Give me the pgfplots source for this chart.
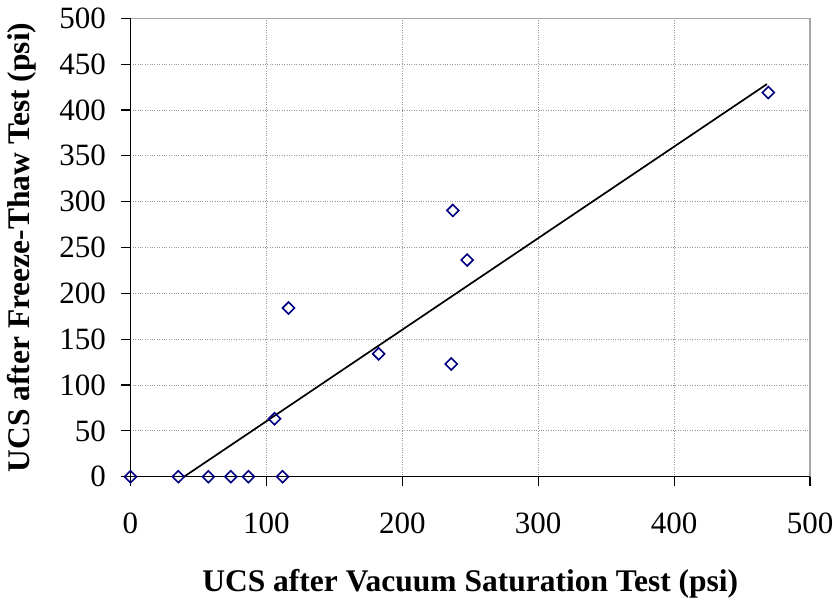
\documentclass[border=0pt]{standalone}
\usepackage{fontspec}
\setmainfont{Liberation Serif}
\usepackage{pgfplots}
\pgfplotsset{compat=1.18}
\definecolor{navyblue}{RGB}{0,0,128}
\begin{document}
\begin{tikzpicture}
\begin{axis}[
  name=ax,
  scale only axis,
  width=679.5pt, height=458.4pt,
  xmin=0, xmax=500, ymin=0, ymax=500,
  xtick={0,100,...,500}, ytick={0,50,...,500},
  tick pos=left,
  tick align=outside,
  major tick length=9pt,
  tick style={black, line width=1.2pt},
  axis line style={draw=gray!70, line width=1.2pt},
  grid=major,
  grid style={gray!80, dotted, line width=0.8pt},
  /pgf/number format/assume math mode=true,
  ticklabel style={font=\fontsize{31}{35}\selectfont},
  xticklabel style={yshift=-24pt},
  yticklabel style={xshift=-12pt},
  xlabel={UCS after Vacuum Saturation Test (psi)},
  ylabel={UCS after Freeze-Thaw Test (psi)},
  label style={font=\fontsize{31.5}{35}\selectfont\bfseries},
  xlabel style={yshift=-28pt},
  ylabel style={yshift=16pt},
  clip=false,
]
\addplot[black, line width=1.7pt] coordinates {(39.4,0) (468.3,428.2)};
\addplot[only marks, mark=square, mark size=4.2pt,
  mark options={rotate=45, draw=navyblue, fill=white, line width=1.6pt}]
  coordinates {
  (0,0) (35.2,0) (57.3,0) (73.8,0) (86.8,0) (111.9,0)
  (106,63.2) (116.3,184) (182.6,134) (236,122.9)
  (237.2,290.4) (247.7,236.3) (469.3,419)
  };
\draw[black, line width=1.4pt] (rel axis cs:0,0) -- (rel axis cs:1,0);
\draw[black, line width=1.4pt] (rel axis cs:0,0) -- (rel axis cs:0,1);
\end{axis}
\pgfresetboundingbox
\path (ax.south west) ++(-130.5pt,-124.3pt) coordinate (bl);
\path (ax.north east) ++(23pt,18.3pt) coordinate (tr);
\path[use as bounding box] (bl) rectangle (tr);
\end{tikzpicture}
\end{document}
